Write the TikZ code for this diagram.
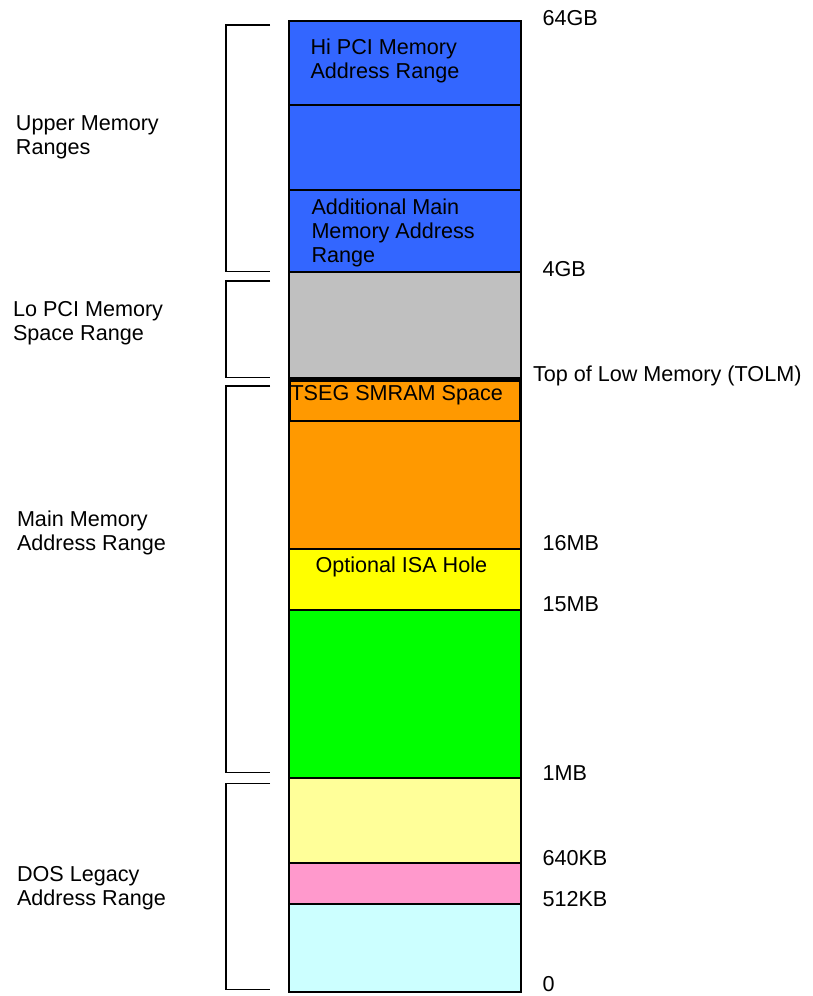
\documentclass[tikz,border=0pt]{standalone}
\usepackage{fontspec}
\setmainfont{Liberation Sans}
\definecolor{hiblue}{HTML}{3366FF}
\definecolor{pcigray}{HTML}{C0C0C0}
\definecolor{mainorange}{HTML}{FF9900}
\definecolor{isayellow}{HTML}{FFFF00}
\definecolor{extgreen}{HTML}{00FF00}
\definecolor{biosyellow}{HTML}{FFFF99}
\definecolor{vgapink}{HTML}{FF99CC}
\definecolor{doscyan}{HTML}{CCFFFF}
\tikzset{block/.style={draw=black, line width=1.3pt},
         brace/.style={draw, line width=1.3pt},
         lbl/.style={inner sep=0pt, outer sep=0pt, anchor=base west,
                     font=\fontsize{21.6}{24}\selectfont},
         mlbl/.style={lbl, anchor=north west, align=left}}

\begin{document}
\begin{tikzpicture}[x=1pt,y=-1pt]
  \useasboundingbox (0,0) rectangle (813,996);

  % the memory column, from 64GB down to 0
  \draw[block,fill=hiblue] (289,21) rectangle (521,105);
  \draw[block,fill=hiblue] (289,105) rectangle (521,190);
  \draw[block,fill=hiblue] (289,190) rectangle (521,272);
  \draw[block,fill=pcigray] (289,272) rectangle (521,378);
  \draw[block,fill=mainorange] (289,378) rectangle (521,549);
  \draw[block,line width=2.4pt] (289.5,380.5) rectangle (520.5,421);
  \draw[block,fill=isayellow] (289,549) rectangle (521,610);
  \draw[block,fill=extgreen] (289,610) rectangle (521,778);
  \draw[block,fill=biosyellow] (289,778) rectangle (521,863);
  \draw[block,fill=vgapink] (289,863) rectangle (521,904);
  \draw[block,fill=doscyan] (289,904) rectangle (521,992);

  \node[mlbl] (hipci) at (310.5,38.7) {Hi PCI Memory\\Address Range};
  \node[mlbl] (addmain) at (311.5,198.4) {Additional Main\\Memory Address\\Range};
  \node[lbl] (tseg) at (290.5,400) {TSEG SMRAM Space};
  \node[lbl] (isahole) at (315.5,572.3) {Optional ISA Hole};

  % brackets on the left
  \draw[brace] (270,25) -- (226,25) -- (226,271.7) -- (270,271.7);
  \draw[brace] (270,281) -- (226,281) -- (226,377.7) -- (270,377.7);
  \draw[brace] (270,386) -- (226,386) -- (226,772.7) -- (270,772.7);
  \draw[brace] (270,783.3) -- (226,783.3) -- (226,989.3) -- (270,989.3);

  \node[mlbl] (upper) at (16,115.4) {Upper Memory\\Ranges};
  \node[mlbl] (lopci) at (13,301.7) {Lo PCI Memory\\Space Range};
  \node[mlbl] (mainmem) at (17,511.1) {Main Memory\\Address Range};
  \node[mlbl] (doslegacy) at (17,866.1) {DOS Legacy\\Address Range};

  % addresses on the right
  \node[lbl] (top64gb) at (542.5,25) {64GB};
  \node[lbl] (top4gb) at (542.5,276.7) {4GB};
  \node[lbl] (tolm) at (533,381.7) {Top of Low Memory (TOLM)};
  \node[lbl] (at16mb) at (542.5,550) {16MB};
  \node[lbl] (at15mb) at (542.5,611.7) {15MB};
  \node[lbl] (at1mb) at (542.5,780) {1MB};
  \node[lbl] (at640kb) at (542.5,865) {640KB};
  \node[lbl] (at512kb) at (542.5,906.7) {512KB};
  \node[lbl] (atzero) at (542.5,991.7) {0};
\end{tikzpicture}
\end{document}
